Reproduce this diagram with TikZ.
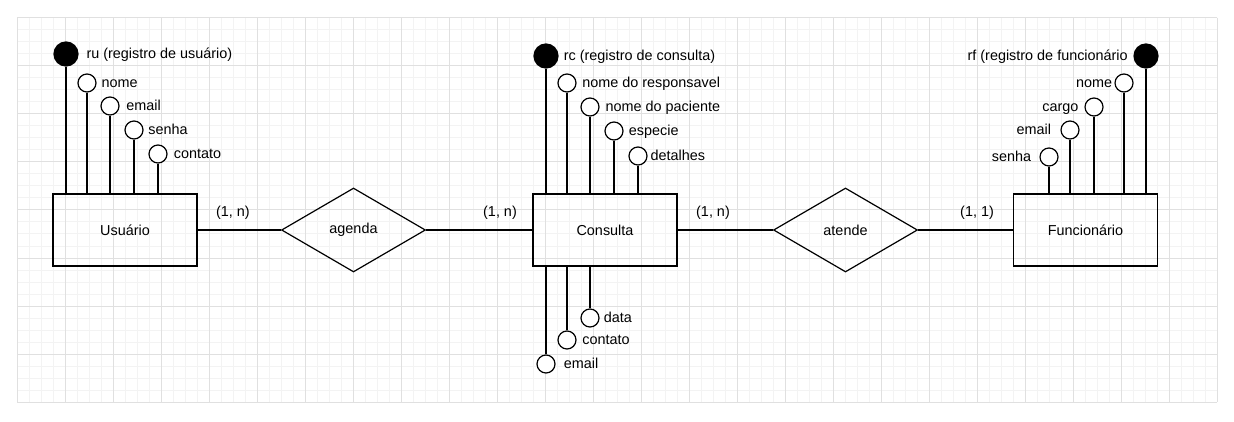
\documentclass[tikz,border=0pt]{standalone}
\usepackage{fontspec}
\setmainfont{Liberation Sans}
\usetikzlibrary{shapes.geometric}
\definecolor{gridminor}{HTML}{F3F3F3}
\definecolor{gridmajor}{HTML}{E0E0E0}

\begin{document}
\begin{tikzpicture}[x=1pt, y=-1pt, line width=1.2pt,
    every node/.style={font=\fontsize{14.4}{17}\selectfont},
    entity/.style={draw, rectangle, minimum width=144pt, minimum height=72pt, inner sep=0pt},
    relation/.style={draw, diamond, minimum width=144pt, minimum height=84pt, inner sep=0pt},
    attr/.style={draw, circle, fill=white, minimum size=18pt, inner sep=0pt},
    keyattr/.style={draw, circle, fill=black, minimum size=24pt, inner sep=0pt},
    attrtext/.style={inner sep=0pt, text height=11pt, text depth=2pt}]
\useasboundingbox (0,0) rectangle (1234,422);
\fill[white] (0,0) rectangle (1234,422);
% grid
\foreach \i in {0,...,100}
    \draw[gridminor, line width=1pt] (17+12*\i,18)--(17+12*\i,402);
\foreach \j in {0,...,32}
    \draw[gridminor, line width=1pt] (17,18+12*\j)--(1217,18+12*\j);
\foreach \i in {0,...,25}
    \draw[gridmajor, line width=1pt] (17+48*\i,18)--(17+48*\i,402);
\foreach \j in {0,...,8}
    \draw[gridmajor, line width=1pt] (17,18+48*\j)--(1217,18+48*\j);

\node[entity] (usuario) at (125,230) {Usuário};
\node[relation] (agenda) at (353.5,230) {agenda};
\node[entity] (consulta) at (605,230) {Consulta};
\node[relation] (atende) at (845.5,230) {atende};
\node[entity] (funcionario) at (1085.5,230) {Funcionário};
\draw (usuario)--(agenda)--(consulta)--(atende)--(funcionario);

\node (card1) at (233,213) {(1, n)};
\node (card2) at (500,213) {(1, n)};
\node (card3) at (713,213) {(1, n)};
\node (card4) at (977,213) {(1, 1)};

% Usuario
\node[keyattr] (ru) at (66,54) {};
\node[attrtext, anchor=west] (rutext) at (86,54) {ru (registro de usuário)};
\draw (ru)--(ru |- usuario.north);
\foreach \n/\x/\y/\lx/\txt in {u1/87/83/101/nome, u2/110/106/125.7/email,
    u3/134/130/147.7/senha, u4/158/154/173.3/contato}
{
    \node[attr] (\n) at (\x,\y) {};
    \node[attrtext, anchor=west] (\n text) at (\lx,\y) {\txt};
    \draw (\n)--(\n |- usuario.north);
}

% Consulta
\node[keyattr] (rc) at (546,56) {};
\node[attrtext, anchor=west] (rctext) at (563.3,56) {rc (registro de consulta)};
\draw (rc)--(rc |- consulta.north);
\foreach \n/\x/\y/\lx/\txt in {c1/567/83/581.7/nome do responsavel,
    c2/590/107/605/nome do paciente, c3/614/131/628.3/especie, c4/638/156/650/detalhes}
{
    \node[attr] (\n) at (\x,\y) {};
    \node[attrtext, anchor=west] (\n text) at (\lx,\y) {\txt};
    \draw (\n)--(\n |- consulta.north);
}
\foreach \n/\x/\y/\lx/\txt in {c5/590/318/603.3/data, c6/567/340/581.7/contato,
    c7/546/364/563.3/email}
{
    \node[attr] (\n) at (\x,\y) {};
    \node[attrtext, anchor=west] (\n text) at (\lx,\y) {\txt};
    \draw (\n)--(\n |- consulta.south);
}

% Funcionario
\node[keyattr] (rf) at (1146,56) {};
\node[attrtext, anchor=east] (rftext) at (1128.3,56) {rf (registro de funcionário};
\draw (rf)--(rf |- funcionario.north);
\foreach \n/\x/\y/\lx/\txt in {f1/1124/83/1112.7/nome, f2/1094/107/1079/cargo,
    f3/1070/130/1051.7/email, f4/1049/157/1031.7/senha}
{
    \node[attr] (\n) at (\x,\y) {};
    \node[attrtext, anchor=east] (\n text) at (\lx,\y) {\txt};
    \draw (\n)--(\n |- funcionario.north);
}
\end{tikzpicture}
\end{document}
